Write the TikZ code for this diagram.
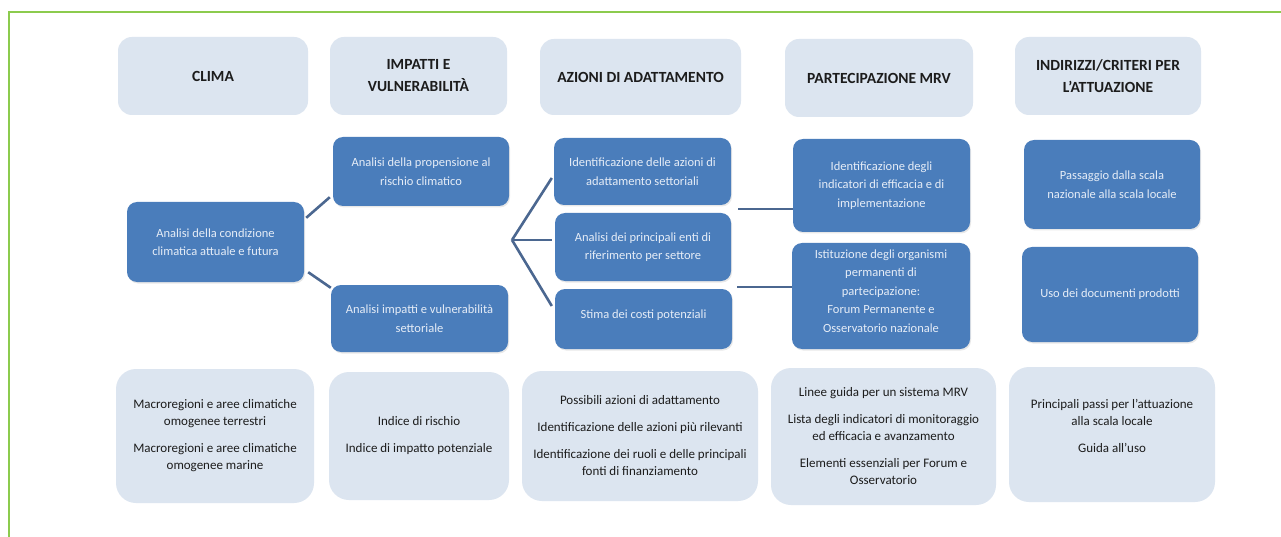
\documentclass[tikz,border=0pt]{standalone}
\usepackage{fontspec}
\setmainfont{Carlito}
\usetikzlibrary{calc,shadows}
\definecolor{frameGreen}{HTML}{8CCB4E}
\definecolor{darkBlue}{HTML}{4A7DBB}
\definecolor{lightBlue}{HTML}{DCE5F0}
\definecolor{linkCol}{HTML}{4B6790}
\definecolor{darkTxt}{HTML}{1C1C1C}
\definecolor{paleTxt}{HTML}{E6EDF7}
\tikzset{
  headbox/.style={rounded corners=14pt, fill=lightBlue, inner sep=0pt, align=center,
    text=darkTxt, font={\fontsize{15.5}{22}\selectfont\bfseries}},
  darkbox/.style={rounded corners=10pt, fill=darkBlue, inner sep=0pt, align=center,
    text=paleTxt, font={\fontsize{12.5}{18.5}\selectfont},
    drop shadow={opacity=0.18, shadow xshift=1pt, shadow yshift=-1.5pt}},
  infobox/.style={rounded corners=20pt, fill=lightBlue, inner sep=0pt, align=center,
    text=darkTxt, font={\fontsize{13}{17}\selectfont}},
  link/.style={draw=linkCol, line width=2.6pt}
}
\begin{document}
\begin{tikzpicture}[x=1pt,y=1pt]
\useasboundingbox (0,0) rectangle (1281,-537);
\fill[white] (0,0) rectangle (1281,-537);
% frame
\draw[frameGreen, line width=2pt] (9,-537) -- (9,-12) -- (1281,-12);

% headers
\node[headbox, minimum width=190pt, minimum height=78pt] (h1) at (213,-76) {CLIMA};
\node[headbox, minimum width=177pt, minimum height=78pt] (h2) at (418.5,-76) {IMPATTI E\\VULNERABILITÀ};
\node[headbox, minimum width=201pt, minimum height=76pt] (h3) at (640.5,-77) {AZIONI DI ADATTAMENTO};
\node[headbox, minimum width=188pt, minimum height=78pt] (h4) at (879,-78) {PARTECIPAZIONE MRV};
\node[headbox, minimum width=186pt, minimum height=78pt] (h5) at (1108,-76) {INDIRIZZI/CRITERI PER\\L’ATTUAZIONE};

% dark boxes
\node[darkbox, minimum width=177pt, minimum height=80pt] (cond) at (215.5,-242) {Analisi della condizione\\climatica attuale e futura};
\node[darkbox, minimum width=176pt, minimum height=69pt] (prop) at (421,-171.5) {Analisi della propensione al\\rischio climatico};
\node[darkbox, minimum width=177pt, minimum height=67pt] (imp) at (419.5,-318.5) {Analisi impatti e vulnerabilità\\settoriale};
\node[darkbox, minimum width=177pt, minimum height=67pt] (ida) at (642.5,-171.5) {Identificazione delle azioni di\\adattamento settoriali};
\node[darkbox, minimum width=176pt, minimum height=68pt] (enti) at (643,-247) {Analisi dei principali enti di\\riferimento per settore};
\node[darkbox, minimum width=177pt, minimum height=60pt] (stima) at (643.5,-319) {\raisebox{9pt}{Stima dei costi potenziali}};
\node[darkbox, minimum width=177pt, minimum height=93pt] (ind) at (881.5,-185.5) {Identificazione degli\\indicatori di efficacia e di\\implementazione};
\node[darkbox, minimum width=178pt, minimum height=106pt] (ist) at (881,-296) {Istituzione degli organismi\\permanenti di\\partecipazione:\\Forum Permanente e\\Osservatorio nazionale\\[-8pt]};
\node[darkbox, minimum width=176pt, minimum height=89pt] (pass) at (1112,-184.5) {Passaggio dalla scala\\nazionale alla scala locale};
\node[darkbox, minimum width=176pt, minimum height=95pt] (uso) at (1110,-294.5) {Uso dei documenti prodotti};

% bottom info boxes
\node[infobox, minimum width=198pt, minimum height=134pt] (b1) at (215,-436) {Macroregioni e aree climatiche\\omogenee terrestri\\[10pt]Macroregioni e aree climatiche\\omogenee marine};
\node[infobox, minimum width=180pt, minimum height=128pt] (b2) at (419,-436) {Indice di rischio\\[10pt]Indice di impatto potenziale};
\node[infobox, minimum width=236pt, minimum height=130pt] (b3) at (640,-436) {Possibili azioni di adattamento\\[10pt]Identificazione delle azioni più rilevanti\\[10pt]Identificazione dei ruoli e delle principali\\fonti di finanziamento};
\node[infobox, minimum width=225pt, minimum height=137pt] (b4) at (883.5,-436.5) {Linee guida per un sistema MRV\\[10pt]Lista degli indicatori di monitoraggio\\ed efficacia e avanzamento\\[10pt]Elementi essenziali per Forum e\\Osservatorio};
\node[infobox, minimum width=206pt, minimum height=135pt] (b5) at (1112,-434.5) {Principali passi per l’attuazione\\alla scala locale\\[10pt]Guida all’uso\\[0pt]};

% connectors
\draw[link] ($(cond.north east)+(2,-16)$) -- ($(prop.south west)+(-3,9)$);
\draw[link] ($(cond.south east)+(4,10)$) -- ($(imp.north west)+(0,-3)$);

\coordinate (fork) at (512,-240);
\draw[link] (fork) -- ($(ida.west)+(-2,-6.5)$);
\draw[link] (fork) -- ($(enti.west)+(-3,7)$);
\draw[link] (fork) -- ($(stima.west)+(-3,13)$);

\coordinate (m1) at (738,-209);
\coordinate (m2) at (737,-287);
\draw[link] (m1) -- (ind.west |- m1);
\draw[link] (m2) -- (ist.west |- m2);
\end{tikzpicture}
\end{document}
